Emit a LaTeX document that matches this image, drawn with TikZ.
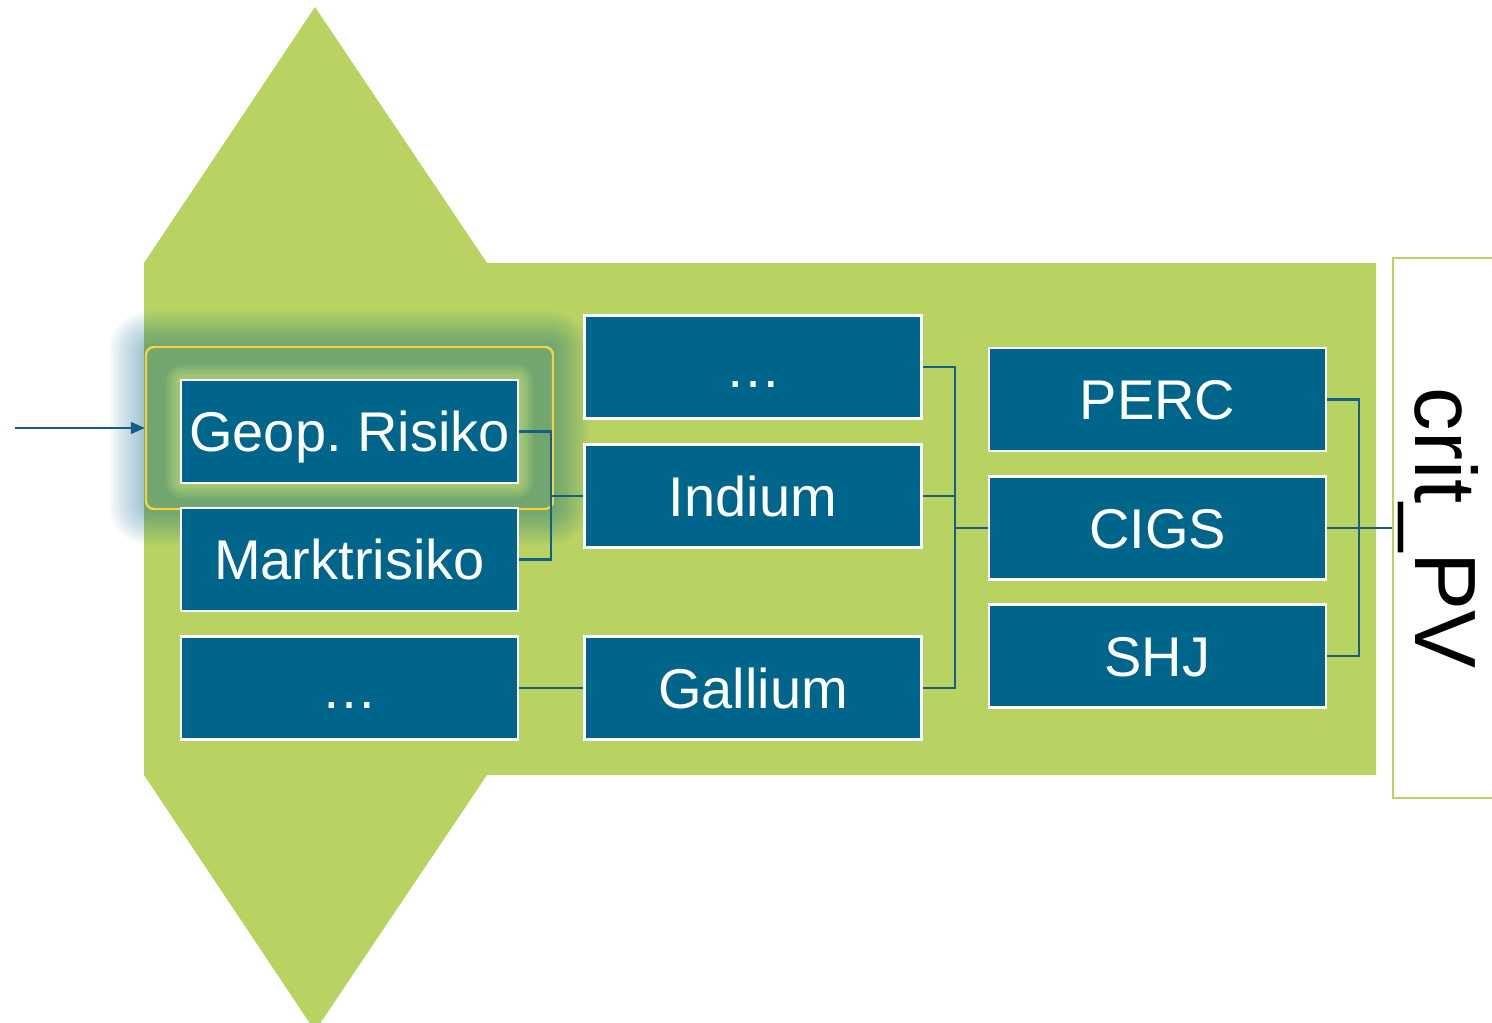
\documentclass[tikz,border=0pt]{standalone}
\usepackage{fontspec}
\setmainfont{Liberation Sans}
\usetikzlibrary{arrows.meta,calc}
\definecolor{pvgreen}{HTML}{B9D363}
\definecolor{pvblue}{HTML}{00658A}
\definecolor{lineblue}{HTML}{145F87}
\definecolor{glowblue}{HTML}{0A6A8E}
\definecolor{hlyellow}{HTML}{F3D23E}
\definecolor{halo}{HTML}{D2E87C}
\begin{document}
\begin{tikzpicture}[x=0.5pt,y=-0.5pt,
  box/.style={draw=white, line width=1.2pt, fill=pvblue, text=white,
    minimum width=168.5pt, minimum height=51.5pt, inner sep=0pt,
    font=\fontsize{28}{30}\selectfont, text height=20pt, text depth=0pt},
  conn/.style={draw=lineblue, line width=1.3pt},
]
\useasboundingbox (0,0) rectangle (1492,1022);
% green arrow-shaped background
\fill[pvgreen] (144,263) -- (315,7) -- (487,263) -- (1376,263) -- (1376,775)
  -- (487,775) -- (315,1031) -- (144,775) -- cycle;
% result box
\node[draw=pvgreen, line width=1.2pt, fill=white, minimum width=103.5pt,
  minimum height=270pt, inner sep=0pt] (critbox) at (1496.5,528) {};
\node[rotate=-90, font=\fontsize{43.5}{45}\selectfont, text height=31.1pt,
  text depth=0pt, inner sep=0pt] (crit) at (1446.5,528) {crit\_PV};
% glow around the highlight
\foreach \i in {1,...,12}{
  \pgfmathsetmacro\rr{2+1.5*\i}
  \fill[glowblue, opacity=0.04, rounded corners=\rr pt]
    (146-3*\i,347-3*\i) rectangle (553+3*\i,509+3*\i);
}
\node[draw=hlyellow, line width=1.2pt, rounded corners=4pt, minimum width=203.5pt,
  minimum height=81pt, inner sep=0pt] (hl) at (349.5,428) {};
% halo round the selected box
\foreach \i in {1,...,6}{
  \pgfmathsetmacro\rr{1+1.2*\i}
  \fill[halo, opacity=0.12, rounded corners=\rr pt]
    (181-2.5*\i,380-2.5*\i) rectangle (518+2.5*\i,483+2.5*\i);
}
% boxes
\node[box] (geo)   at (349.5,431.5) {Geop.\ Risiko};
\node[box] (mkt)   at (349.5,559.5) {Marktrisiko};
\node[box] (dotsL) at (349.5,688)   {…};
\node[box] (dotsM) at (753,367)     {…};
\node[box] (ind)   at (753,496)     {Indium};
\node[box] (gal)   at (753,688)     {Gallium};
\node[box] (perc)  at (1157.5,399.5) {PERC};
\node[box] (cigs)  at (1157.5,528)  {CIGS};
\node[box] (shj)   at (1157.5,656)  {SHJ};
% connectors
\coordinate (j1) at (551,496);
\coordinate (j2) at (955,528);
\coordinate (j3) at (1359,528);
\draw[conn] (geo.east) -| (j1) |- (mkt.east);
\draw[conn] (j1) -- (ind.west);
\draw[conn] (dotsL.east) -- (gal.west);
\draw[conn] (dotsM.east) -| (j2) |- (gal.east);
\draw[conn] (ind.east) -| (j2);
\draw[conn] (j2) -- (cigs.west);
\draw[conn] (perc.east) -| (j3) |- (shj.east);
\draw[conn] (cigs.east) -- (critbox.west |- cigs.east);
% input arrow
\coordinate (a0) at (15,428);
\draw[lineblue, line width=0.7pt, -{Triangle[length=7pt,width=6pt]}] (a0) -- (hl.west);
\end{tikzpicture}
\end{document}
